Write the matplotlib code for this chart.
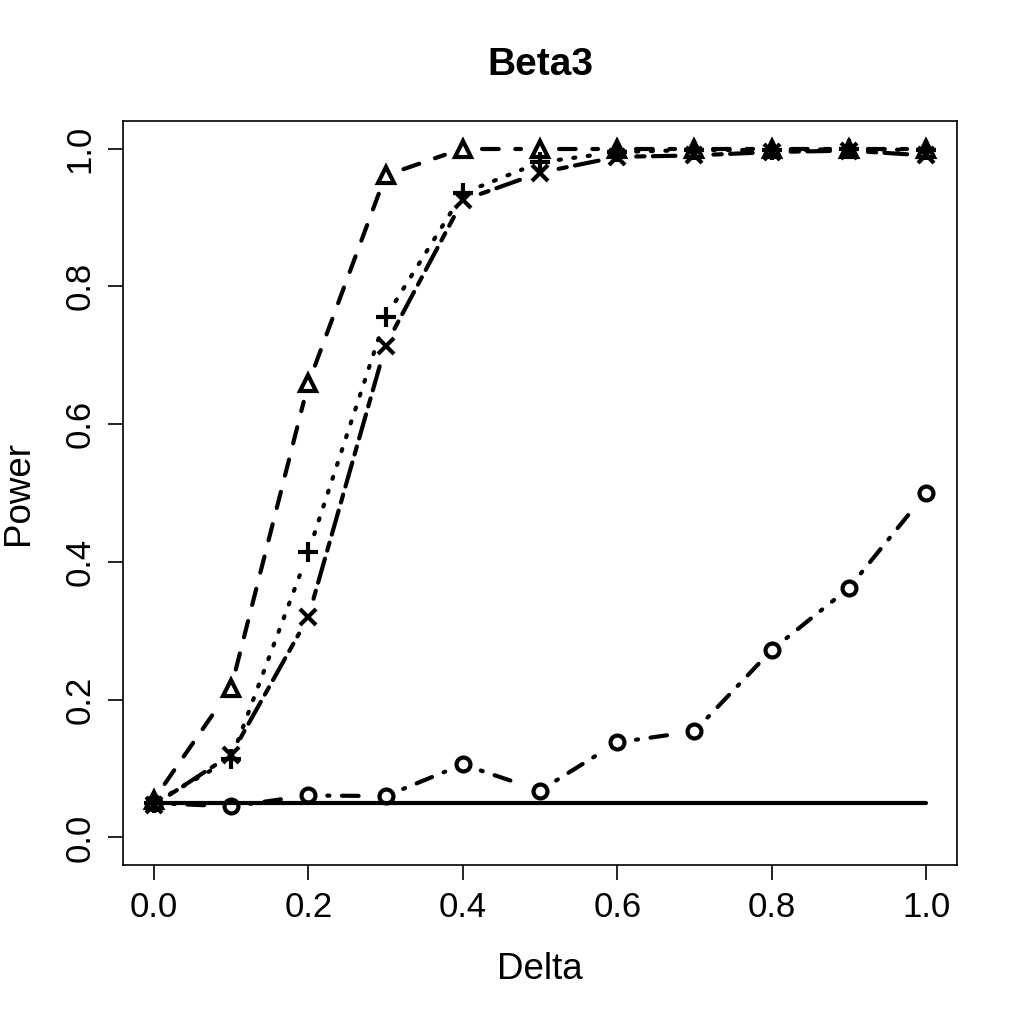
import matplotlib
matplotlib.use("Agg")
import matplotlib.pyplot as plt
import numpy as np

plt.rcParams['font.family'] = ['Liberation Sans', 'DejaVu Sans']

delta = [0.0, 0.1, 0.2, 0.3, 0.4, 0.5, 0.6, 0.7, 0.8, 0.9, 1.0]
alpha_level = [0.05] * 11
pow_tri = [0.055, 0.217, 0.659, 0.961, 1.0, 1.0, 1.0, 1.0, 1.0, 1.0, 1.0]
pow_plus = [0.05, 0.114, 0.414, 0.755, 0.935, 0.98, 0.995, 0.998, 0.998, 0.999, 0.998]
pow_x = [0.047, 0.12, 0.32, 0.714, 0.925, 0.965, 0.988, 0.99, 0.995, 0.997, 0.99]
pow_circ = [0.05, 0.045, 0.061, 0.06, 0.106, 0.068, 0.138, 0.154, 0.272, 0.362, 0.5]

fig = plt.figure(figsize=(10.19, 10.19), dpi=100)
# axes box in pixels: left 123, right 957, top 121, bottom 865
ax = fig.add_axes([123/1019, 1 - 865/1019, (957-123)/1019, (865-121)/1019])
ax.set_xlim(-0.04, 1.04)
ax.set_ylim(-0.04, 1.04)

LW = 3
GAP = 19  # pixels left blank round each point, like R type="b"


def plot_b(x, y, ls, marker, ms):
    # line segments stopped short of the points, then the points
    pts = ax.transData.transform(np.column_stack([x, y]))
    inv = ax.transData.inverted()
    for p0, p1 in zip(pts[:-1], pts[1:]):
        d = np.hypot(*(p1 - p0))
        if d <= 2 * GAP:
            continue
        u = (p1 - p0) / d
        a, b = inv.transform(np.array([p0 + u * GAP, p1 - u * GAP]))
        ax.plot([a[0], b[0]], [a[1], b[1]], color="black", lw=LW, linestyle=ls,
                dash_capstyle="round", solid_capstyle="round")
    ax.plot(x, y, linestyle="none", marker=marker, markersize=ms, color="black",
            markeredgewidth=3, markerfacecolor="none")


ax.plot(delta, alpha_level, color="black", lw=LW, solid_capstyle="round")
plot_b(delta, pow_tri, (0, (4, 4)), "^", 11)
plot_b(delta, pow_plus, (0, (0.5, 3)), "+", 15)
plot_b(delta, pow_circ, (0, (0.5, 3, 4, 3)), "o", 10)
plot_b(delta, pow_x, (0, (2, 2, 6, 2)), "x", 11)

ax.set_xticks([0.0, 0.2, 0.4, 0.6, 0.8, 1.0])
ax.set_yticks([0.0, 0.2, 0.4, 0.6, 0.8, 1.0])
ax.set_xticklabels(["0.0", "0.2", "0.4", "0.6", "0.8", "1.0"])
ax.set_yticklabels(["0.0", "0.2", "0.4", "0.6", "0.8", "1.0"], rotation=90, va="center")
ax.tick_params(length=11, width=1.2, labelsize=25, pad=8)
for s in ax.spines.values():
    s.set_linewidth(1.2)

ax.set_xlabel("Delta", fontsize=26.5, labelpad=20)
ax.set_ylabel("Power", fontsize=26.5, labelpad=20)
ax.set_title("Beta3", fontsize=28, fontweight="bold", pad=33)

fig.savefig("out.png", dpi=100)
